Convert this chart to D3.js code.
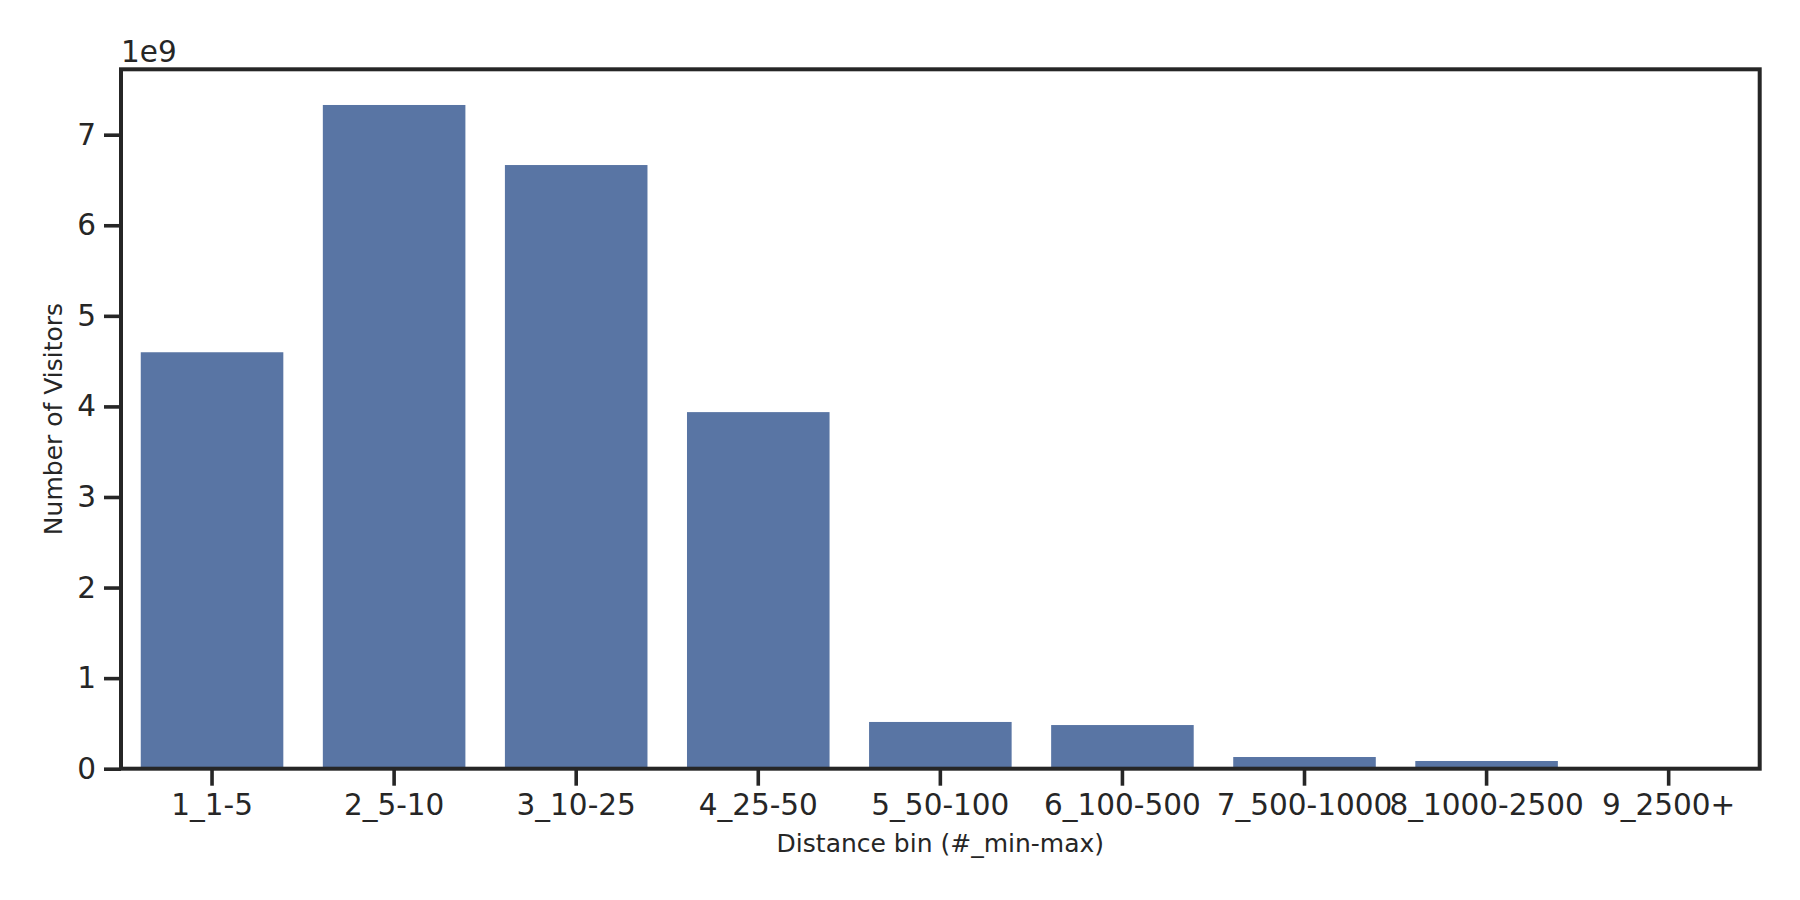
<!DOCTYPE html>
<html>
<head>
<meta charset="utf-8">
<script src="https://cdn.jsdelivr.net/npm/d3@7"></script>
<style>
  body { margin: 0; background: #fff; }
  text { font-family: "DejaVu Sans", sans-serif; fill: #262626; }
</style>
</head>
<body>
<div id="chart"></div>
<script>
// distance bins and visitor counts (in 1e9)
const bins = ['1_1-5', '2_5-10', '3_10-25', '4_25-50', '5_50-100',
              '6_100-500', '7_500-1000', '8_1000-2500', '9_2500+'];
const visitors = [4.598, 7.328, 6.665, 3.937, 0.516, 0.482, 0.129, 0.085, 0.004];
const yTicks = [0, 1, 2, 3, 4, 5, 6, 7];

const colors = { bar: '#5975a4', ink: '#262626' };

let width = 1800, height = 900;
let margin = { left: 121, right: 40.3, top: 69.3, bottom: 131.3 };
let tickFont = 29.5, labelFont = 25;

let data = bins.map((b, i) => ({ bin: b, v: visitors[i] }));

let svg = d3.select('#chart').append('svg')
    .attr('width', width).attr('height', height);

let x = d3.scaleBand()
    .domain(bins)
    .range([margin.left, width - margin.right])
    .paddingInner(0.2)
    .paddingOuter(0.1);

let y = d3.scaleLinear()
    .domain([0, 7.722])
    .range([height - margin.bottom, margin.top]);

// bars are a little narrower than the band
const barW = x.step() * 0.783;
const barX = d => x(d.bin) + (x.bandwidth() - barW) / 2;

svg.append('g').selectAll('rect')
    .data(data)
    .enter().append('rect')
    .attr('x', barX)
    .attr('width', barW)
    .attr('y', d => y(d.v))
    .attr('height', d => y(0) - y(d.v))
    .attr('fill', colors.bar);

// axes
let xAxis = svg.append('g')
    .attr('transform', `translate(0,${height - margin.bottom})`)
    .call(d3.axisBottom(x).tickSize(17).tickPadding(8).tickSizeOuter(0));

let yAxis = svg.append('g')
    .attr('transform', `translate(${margin.left},0)`)
    .call(d3.axisLeft(y).tickValues(yTicks).tickFormat(d3.format('d'))
        .tickSize(17).tickPadding(8).tickSizeOuter(0));

[xAxis, yAxis].forEach(a => {
    a.select('.domain').remove();
    a.selectAll('.tick line').attr('stroke', colors.ink).attr('stroke-width', 3.6);
    a.selectAll('.tick text').attr('font-size', tickFont).attr('fill', colors.ink)
        .style('font-family', '"DejaVu Sans", sans-serif');
});

// frame (spines)
svg.append('rect')
    .attr('x', margin.left).attr('y', margin.top)
    .attr('width', width - margin.left - margin.right)
    .attr('height', height - margin.top - margin.bottom)
    .attr('fill', 'none')
    .attr('stroke', colors.ink)
    .attr('stroke-width', 4);

// offset text
svg.append('text')
    .attr('x', margin.left).attr('y', 62)
    .attr('font-size', tickFont)
    .text('1e9');

// axis labels
svg.append('text')
    .attr('x', (margin.left + width - margin.right) / 2)
    .attr('y', 852)
    .attr('text-anchor', 'middle')
    .attr('font-size', labelFont)
    .text('Distance bin (#_min-max)');

svg.append('text')
    .attr('transform', `translate(62,${(margin.top + height - margin.bottom) / 2}) rotate(-90)`)
    .attr('text-anchor', 'middle')
    .attr('font-size', labelFont)
    .text('Number of Visitors');
</script>
</body>
</html>
